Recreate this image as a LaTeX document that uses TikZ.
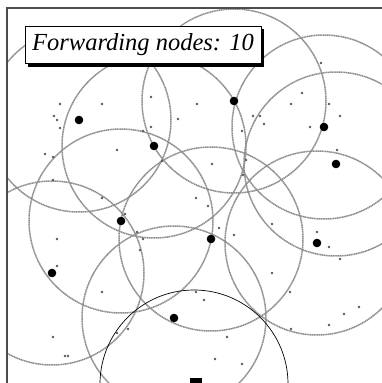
\documentclass[tikz,border=0pt]{standalone}
\usepackage{fontspec}
\setmainfont{Liberation Serif}
\begin{document}
\begin{tikzpicture}[x=1pt,y=-1pt,
  rangecircle/.style={draw=black!45,line width=1.5pt,dash pattern=on 1.3pt off 0.5pt},
  fwd/.style={fill=black},
  small/.style={fill=black!65},
  framestyle/.style={draw=black!70,line width=1.5pt},
  titlebox/.style={draw=black,line width=0.8pt,fill=white,minimum width=236pt,minimum height=37pt,inner sep=0pt,font=\fontsize{24.5}{28}\selectfont\itshape}]
\useasboundingbox (0,0) rectangle (382,383);
\fill[white] (0,0) rectangle (382,383);
% forwarding nodes
\coordinate (f1) at (79,120);
\coordinate (f2) at (154,146);
\coordinate (f3) at (234,101);
\coordinate (f4) at (324,127);
\coordinate (f5) at (336,164);
\coordinate (f6) at (121,221);
\coordinate (f7) at (52,273);
\coordinate (f8) at (211,239);
\coordinate (f9) at (317,243);
\coordinate (f10) at (174,318);
\coordinate (src) at (194,384);
\begin{scope}
\clip (7,8) rectangle (382,383);
\foreach \n in {f1,f2,f3,f4,f5,f6,f7,f8,f9,f10}
  \draw[rangecircle] (\n) circle[radius=92pt];
\draw[black,line width=0.7pt] (src) circle[radius=94pt];
\foreach \p in {(60,104),(102,104),(54,116),(57,120),(60,128),(151,97),(151,127),(143,131),(178,119),(117,150),(45,154),(53,157),(53,180),(162,161),
(197,104),(302,93),(291,104),(329,104),(321,63),(253,116),(260,116),(264,124),(310,127),(340,116),(242,131),(212,164),(337,150),(246,160),(243,175),
(102,198),(125,214),(137,232),(143,239),(140,250),(57,239),(57,266),(102,292),(128,329),(117,333),(53,337),(65,356),(68,356),
(196,198),(208,206),(219,228),(234,235),(272,224),(317,232),(329,247),(340,259),(272,273),(290,292),(196,292),(204,300),(359,307),(344,314),(329,325),(291,329),(227,337),(215,359),(242,364)}
  \fill[small] \p circle[radius=1.4pt];
\foreach \n in {f1,f2,f3,f4,f5,f6,f7,f8,f9,f10}
  \fill[fwd] (\n) circle[radius=4.3pt];
\fill[black] (190,378) rectangle (202,384);
\end{scope}
% frame
\draw[framestyle] (7,383) -- (7,8) -- (382,8);
% title
\fill[black] (28,29) rectangle (264,67);
\node[titlebox] (title) at (143,44.5) {Forwarding nodes: 10};
\end{tikzpicture}
\end{document}
